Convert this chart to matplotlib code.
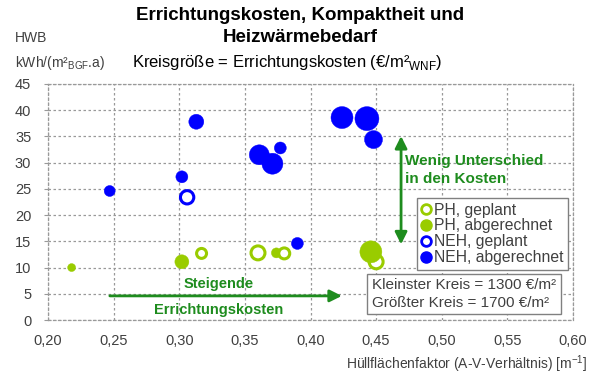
import numpy as np
import matplotlib
matplotlib.use('Agg')
import matplotlib.pyplot as plt
from matplotlib.lines import Line2D

plt.rcParams['font.family'] = ['Liberation Sans', 'DejaVu Sans']

# ---- data: x = A/V ratio, y = HWB, cost = construction cost (EUR/m2 WNF) ----
ph_plan_x = [0.317, 0.360, 0.380, 0.450]
ph_plan_y = [12.7, 12.8, 12.7, 11.1]
ph_plan_c = [1425, 1525, 1450, 1525]

ph_done_x = [0.218, 0.302, 0.374, 0.446]
ph_done_y = [10.0, 11.1, 12.8, 13.0]
ph_done_c = [1300, 1450, 1350, 1650]

neh_plan_x = [0.306]
neh_plan_y = [23.4]
neh_plan_c = [1510]

neh_done_x = [0.247, 0.313, 0.302, 0.361, 0.371, 0.377, 0.390, 0.424, 0.443, 0.448]
neh_done_y = [24.6, 37.8, 27.3, 31.5, 29.8, 32.8, 14.6, 38.6, 38.4, 34.4]
neh_done_c = [1375, 1475, 1400, 1600, 1625, 1400, 1400, 1650, 1700, 1550]

xticks = [0.20, 0.25, 0.30, 0.35, 0.40, 0.45, 0.50, 0.55, 0.60]
yticks = [0, 5, 10, 15, 20, 25, 30, 35, 40, 45]

GREEN = '#99cc00'
BLUE = '#0000ff'
DKGREEN = '#1e8c1e'
OPEN_LW = 2.2  # pt

def diam_pt(c):
    # smallest circle (1300) ~8 px, largest (1700) ~24 px across
    return (8 + (np.asarray(c) - 1300) / 400 * 16) * 0.72

series = [
    (ph_plan_x, ph_plan_y, ph_plan_c, GREEN, True),
    (ph_done_x, ph_done_y, ph_done_c, GREEN, False),
    (neh_plan_x, neh_plan_y, neh_plan_c, BLUE, True),
    (neh_done_x, neh_done_y, neh_done_c, BLUE, False),
]
xs, ys, ss, fcs, ecs, lws, cs = [], [], [], [], [], [], []
for x, y, c, col, hollow in series:
    d = diam_pt(c)
    for xi, yi, di, ci in zip(x, y, d, c):
        xs.append(xi); ys.append(yi); cs.append(ci)
        if hollow:
            ss.append((di - OPEN_LW) ** 2); fcs.append('white'); ecs.append(col); lws.append(OPEN_LW)
        else:
            ss.append(di ** 2); fcs.append(col); ecs.append(col); lws.append(0.3)
order = np.argsort(cs, kind='stable')  # bigger bubbles end up on top

fig = plt.figure(figsize=(6.0, 3.78), dpi=100)
ax = fig.add_axes([0.08, 0.1534, 0.875, 0.6244])

ax.scatter(np.array(xs)[order], np.array(ys)[order], s=np.array(ss)[order],
           facecolors=[fcs[i] for i in order], edgecolors=[ecs[i] for i in order],
           linewidths=[lws[i] for i in order], zorder=3)

ax.set_xlim(0.20, 0.60)
ax.set_ylim(0, 45)
ax.set_xticks(xticks)
ax.set_xticklabels([f'{v:.2f}'.replace('.', ',') for v in xticks])
ax.set_yticks(yticks)
ax.grid(True, color='#999999', linestyle=(0, (2, 2)), linewidth=0.9)
for sp in ax.spines.values():
    sp.set_color('#999999')
    sp.set_linestyle((0, (2, 2)))
    sp.set_linewidth(0.9)
ax.tick_params(axis='both', colors='#999999', labelcolor='#404040', labelsize=10.5,
               length=3, direction='out')
ax.tick_params(axis='y', pad=9)
ax.tick_params(axis='x', length=0, pad=10)

fig.text(588 / 600, 1 - 364 / 378, 'Hüllflächenfaktor (A-V-Verhältnis) [m$^{\\mathregular{-1}}$]',
         ha='right', va='center', fontsize=10, color='#404040')

# titles
fig.text(0.5, 1 - 15 / 378, 'Errichtungskosten, Kompaktheit und', ha='center', va='center',
         fontsize=13.5, fontweight='bold')
fig.text(0.5, 1 - 38 / 378, 'Heizwärmebedarf', ha='center', va='center',
         fontsize=13.5, fontweight='bold')
fig.text(132 / 600, 1 - 63 / 378, 'Kreisgröße = Errichtungskosten (€/m²$_{\\mathregular{WNF}}$)',
         ha='left', va='center', fontsize=12)
fig.text(15 / 600, 1 - 38 / 378, 'HWB', ha='left', va='center', fontsize=10, color='#404040')
fig.text(15 / 600, 1 - 63 / 378, 'kWh/(m²$_{\\mathregular{BGF}}$.a)', ha='left', va='center',
         fontsize=10, color='#404040')

# annotations
ax.annotate('', xy=(0.426, 4.6), xytext=(0.245, 4.6),
            arrowprops=dict(arrowstyle='-|>', color=DKGREEN, lw=2, mutation_scale=18), zorder=4)
ax.text(0.330, 6.8, 'Steigende', ha='center', va='center', color=DKGREEN,
        fontsize=10.5, fontweight='bold', zorder=4)
ax.text(0.330, 2.0, 'Errichtungskosten', ha='center', va='center', color=DKGREEN,
        fontsize=10.5, fontweight='bold', zorder=4)
ax.annotate('', xy=(0.469, 13.9), xytext=(0.469, 35.6),
            arrowprops=dict(arrowstyle='<|-|>', color=DKGREEN, lw=2, mutation_scale=18), zorder=4)
ax.text(0.472, 28.6, 'Wenig Unterschied\nin den Kosten', ha='left', va='center', color=DKGREEN,
        fontsize=11, fontweight='bold', linespacing=1.35, zorder=4)

handles = [
    Line2D([], [], marker='o', ls='', ms=7, mfc='white', mec=GREEN, mew=2, label='PH, geplant'),
    Line2D([], [], marker='o', ls='', ms=8, mfc=GREEN, mec=GREEN, label='PH, abgerechnet'),
    Line2D([], [], marker='o', ls='', ms=7, mfc='white', mec=BLUE, mew=2, label='NEH, geplant'),
    Line2D([], [], marker='o', ls='', ms=8, mfc=BLUE, mec=BLUE, label='NEH, abgerechnet'),
]
leg = fig.legend(handles=handles, loc='upper left', bbox_to_anchor=(417 / 600, 1 - 198 / 378),
                 fontsize=11.3, frameon=True, fancybox=False, framealpha=1, edgecolor='#808080',
                 handlelength=0.6, handletextpad=0.2, labelspacing=0.05, borderpad=0.3,
                 borderaxespad=0)
leg.get_frame().set_linewidth(1)
for t in leg.get_texts():
    t.set_color('#404040')

fig.text(372 / 600, 1 - 294 / 378, 'Kleinster Kreis = 1300 €/m²\nGrößter Kreis = 1700 €/m²',
         ha='left', va='center', fontsize=11, color='#404040', linespacing=1.3,
         bbox=dict(boxstyle='square,pad=0.3', fc='white', ec='#808080', lw=1))

fig.savefig('out.png', dpi=100)
